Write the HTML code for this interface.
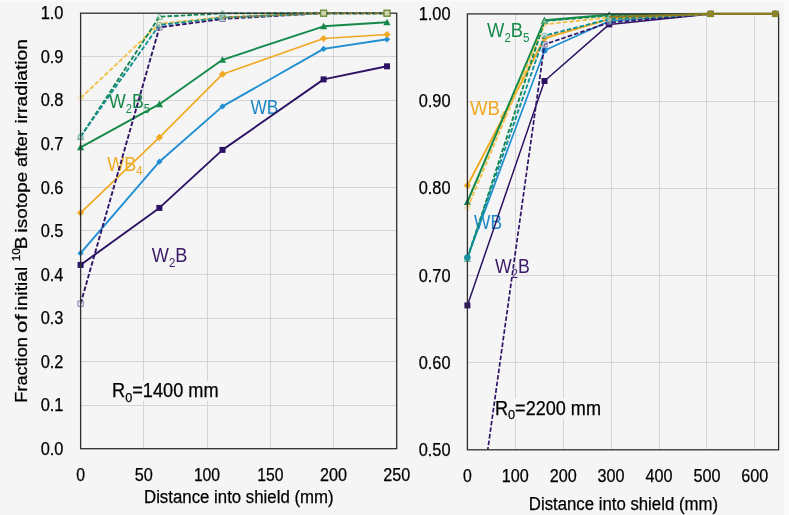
<!DOCTYPE html>
<html><head><meta charset="utf-8"><title>Fraction of initial 10B isotope after irradiation</title>
<style>html,body{margin:0;padding:0;background:#f5f5f5;}body{width:789px;height:515px;overflow:hidden}</style>
</head><body>
<svg width="789" height="515" viewBox="0 0 789 515" style="display:block">
<rect width="789" height="515" fill="#fbfbfb"/>
<rect x="0" y="1.5" width="784.5" height="514" fill="#f5f5f5"/>
<defs><clipPath id="cl"><rect x="76.6" y="8.2" width="324.1" height="440.5"/></clipPath><clipPath id="cr"><rect x="463.4" y="8.9" width="319.20000000000005" height="440.90000000000003"/></clipPath></defs>
<g stroke="#d5d5d9" stroke-width="1" fill="none">
<line x1="80.6" x2="396.7" y1="405.5" y2="405.5"/>
<line x1="80.6" x2="396.7" y1="361.5" y2="361.5"/>
<line x1="80.6" x2="396.7" y1="318.5" y2="318.5"/>
<line x1="80.6" x2="396.7" y1="274.5" y2="274.5"/>
<line x1="80.6" x2="396.7" y1="230.5" y2="230.5"/>
<line x1="80.6" x2="396.7" y1="187.5" y2="187.5"/>
<line x1="80.6" x2="396.7" y1="143.5" y2="143.5"/>
<line x1="80.6" x2="396.7" y1="100.5" y2="100.5"/>
<line x1="80.6" x2="396.7" y1="56.5" y2="56.5"/>
<line x1="143.5" x2="143.5" y1="13.2" y2="448.7"/>
<line x1="207.5" x2="207.5" y1="13.2" y2="448.7"/>
<line x1="270.5" x2="270.5" y1="13.2" y2="448.7"/>
<line x1="333.5" x2="333.5" y1="13.2" y2="448.7"/>
<line x1="467.4" x2="778.6" y1="362.5" y2="362.5"/>
<line x1="467.4" x2="778.6" y1="275.5" y2="275.5"/>
<line x1="467.4" x2="778.6" y1="188.5" y2="188.5"/>
<line x1="467.4" x2="778.6" y1="101.5" y2="101.5"/>
<line x1="515.5" x2="515.5" y1="13.9" y2="449.8"/>
<line x1="563.5" x2="563.5" y1="13.9" y2="449.8"/>
<line x1="611.5" x2="611.5" y1="13.9" y2="449.8"/>
<line x1="659.5" x2="659.5" y1="13.9" y2="449.8"/>
<line x1="706.5" x2="706.5" y1="13.9" y2="449.8"/>
<line x1="754.5" x2="754.5" y1="13.9" y2="449.8"/>
</g>
<g font-family="Liberation Sans, Arial, sans-serif" font-size="18.4" fill="#000" stroke="#000" stroke-width="0.25">
<text x="63.5" y="454.8" text-anchor="end" textLength="22.8" lengthAdjust="spacingAndGlyphs">0.0</text>
<text x="63.5" y="411.2" text-anchor="end" textLength="22.8" lengthAdjust="spacingAndGlyphs">0.1</text>
<text x="63.5" y="367.7" text-anchor="end" textLength="22.8" lengthAdjust="spacingAndGlyphs">0.2</text>
<text x="63.5" y="324.1" text-anchor="end" textLength="22.8" lengthAdjust="spacingAndGlyphs">0.3</text>
<text x="63.5" y="280.6" text-anchor="end" textLength="22.8" lengthAdjust="spacingAndGlyphs">0.4</text>
<text x="63.5" y="237.0" text-anchor="end" textLength="22.8" lengthAdjust="spacingAndGlyphs">0.5</text>
<text x="63.5" y="193.5" text-anchor="end" textLength="22.8" lengthAdjust="spacingAndGlyphs">0.6</text>
<text x="63.5" y="149.9" text-anchor="end" textLength="22.8" lengthAdjust="spacingAndGlyphs">0.7</text>
<text x="63.5" y="106.4" text-anchor="end" textLength="22.8" lengthAdjust="spacingAndGlyphs">0.8</text>
<text x="63.5" y="62.8" text-anchor="end" textLength="22.8" lengthAdjust="spacingAndGlyphs">0.9</text>
<text x="63.5" y="19.3" text-anchor="end" textLength="22.8" lengthAdjust="spacingAndGlyphs">1.0</text>
<text x="80.6" y="480.6" text-anchor="middle" textLength="8.8" lengthAdjust="spacingAndGlyphs">0</text>
<text x="143.8" y="480.6" text-anchor="middle" textLength="18.1" lengthAdjust="spacingAndGlyphs">50</text>
<text x="207.0" y="480.6" text-anchor="middle" textLength="26.2" lengthAdjust="spacingAndGlyphs">100</text>
<text x="270.3" y="480.6" text-anchor="middle" textLength="26.2" lengthAdjust="spacingAndGlyphs">150</text>
<text x="333.5" y="480.6" text-anchor="middle" textLength="27" lengthAdjust="spacingAndGlyphs">200</text>
<text x="396.7" y="480.6" text-anchor="middle" textLength="27" lengthAdjust="spacingAndGlyphs">250</text>
<text x="450.5" y="455.9" text-anchor="end" textLength="31.8" lengthAdjust="spacingAndGlyphs">0.50</text>
<text x="450.5" y="368.7" text-anchor="end" textLength="31.8" lengthAdjust="spacingAndGlyphs">0.60</text>
<text x="450.5" y="281.5" text-anchor="end" textLength="31.8" lengthAdjust="spacingAndGlyphs">0.70</text>
<text x="450.5" y="194.4" text-anchor="end" textLength="31.8" lengthAdjust="spacingAndGlyphs">0.80</text>
<text x="450.5" y="107.2" text-anchor="end" textLength="31.8" lengthAdjust="spacingAndGlyphs">0.90</text>
<text x="450.5" y="20.0" text-anchor="end" textLength="31.8" lengthAdjust="spacingAndGlyphs">1.00</text>
<text x="467.4" y="482.2" text-anchor="middle" textLength="8.8" lengthAdjust="spacingAndGlyphs">0</text>
<text x="515.3" y="482.2" text-anchor="middle" textLength="27" lengthAdjust="spacingAndGlyphs">100</text>
<text x="563.2" y="482.2" text-anchor="middle" textLength="27" lengthAdjust="spacingAndGlyphs">200</text>
<text x="611.1" y="482.2" text-anchor="middle" textLength="27" lengthAdjust="spacingAndGlyphs">300</text>
<text x="659.0" y="482.2" text-anchor="middle" textLength="27" lengthAdjust="spacingAndGlyphs">400</text>
<text x="706.9" y="482.2" text-anchor="middle" textLength="27" lengthAdjust="spacingAndGlyphs">500</text>
<text x="754.8" y="482.2" text-anchor="middle" textLength="27" lengthAdjust="spacingAndGlyphs">600</text>
<text x="144.0" y="503.3" font-size="18" textLength="189.6" lengthAdjust="spacingAndGlyphs">Distance into shield (mm)</text>
<text x="528.8" y="510.1" font-size="18" textLength="189.2" lengthAdjust="spacingAndGlyphs">Distance into shield (mm)</text>
<g transform="translate(26.5 0) rotate(-90)" font-size="17">
<text x="-402.70" y="0" textLength="65.50" lengthAdjust="spacingAndGlyphs">Fraction</text>
<text x="-332.90" y="0" textLength="18.50" lengthAdjust="spacingAndGlyphs">of</text>
<text x="-310.60" y="0" textLength="43.80" lengthAdjust="spacingAndGlyphs">initial</text>
<text x="-261.30" y="-6.3" font-size="11.5" textLength="13.20" lengthAdjust="spacingAndGlyphs">10</text>
<text x="-249.20" y="0" textLength="12.50" lengthAdjust="spacingAndGlyphs">B</text>
<text x="-232.40" y="0" textLength="60.60" lengthAdjust="spacingAndGlyphs">isotope</text>
<text x="-167.00" y="0" textLength="37.10" lengthAdjust="spacingAndGlyphs">after</text>
<text x="-123.60" y="0" textLength="84.60" lengthAdjust="spacingAndGlyphs">irradiation</text>
</g>
</g>
<text x="109" y="107.7" fill="#14894a" font-family="Liberation Sans, Arial, sans-serif" font-size="19.5" textLength="41" lengthAdjust="spacingAndGlyphs">W<tspan font-size="12.3" dy="4.8">2</tspan><tspan dy="-4.8">B</tspan><tspan font-size="12.3" dy="4.8">5</tspan></text>
<text x="107.3" y="170.6" fill="#f0a922" font-family="Liberation Sans, Arial, sans-serif" font-size="19.5" textLength="35.2" lengthAdjust="spacingAndGlyphs">WB<tspan font-size="12.3" dy="4.8">4</tspan></text>
<text x="250.4" y="113.6" fill="#1c86c4" font-family="Liberation Sans, Arial, sans-serif" font-size="19.5" textLength="28" lengthAdjust="spacingAndGlyphs">WB</text>
<text x="151.8" y="262.0" fill="#3a1a66" font-family="Liberation Sans, Arial, sans-serif" font-size="19.5" textLength="35.6" lengthAdjust="spacingAndGlyphs">W<tspan font-size="12.3" dy="4.8">2</tspan><tspan dy="-4.8">B</tspan></text>
<polyline points="80.6,264.9 159.4,207.9 222.5,149.9 323.6,79.4 387.0,66.3" fill="none" stroke="#2c1263" stroke-width="1.9" stroke-linejoin="round" clip-path="url(#cl)"/>
<rect x="77.6" y="261.9" width="6" height="6" fill="#2c1263"/>
<rect x="156.4" y="204.9" width="6" height="6" fill="#2c1263"/>
<rect x="219.5" y="146.9" width="6" height="6" fill="#2c1263"/>
<rect x="320.6" y="76.4" width="6" height="6" fill="#2c1263"/>
<rect x="384.0" y="63.3" width="6" height="6" fill="#2c1263"/>
<polyline points="80.6,253.2 159.4,161.7 222.5,106.4 323.6,48.9 387.0,39.3" fill="none" stroke="#1f8ed2" stroke-width="1.9" stroke-linejoin="round" clip-path="url(#cl)"/>
<path d="M80.6 250.1L83.7 253.2L80.6 256.3L77.5 253.2Z" fill="#1f8ed2"/>
<path d="M159.4 158.6L162.5 161.7L159.4 164.8L156.3 161.7Z" fill="#1f8ed2"/>
<path d="M222.5 103.3L225.6 106.4L222.5 109.5L219.4 106.4Z" fill="#1f8ed2"/>
<path d="M323.6 45.8L326.7 48.9L323.6 52.0L320.5 48.9Z" fill="#1f8ed2"/>
<path d="M387.0 36.2L390.1 39.3L387.0 42.4L383.9 39.3Z" fill="#1f8ed2"/>
<polyline points="80.6,212.8 159.4,137.3 222.5,74.2 323.6,38.5 387.0,34.5" fill="none" stroke="#f0a922" stroke-width="1.7" stroke-linejoin="round" clip-path="url(#cl)"/>
<path d="M80.6 209.2L84.2 212.8L80.6 216.4L77.0 212.8Z" fill="#f0a922"/>
<path d="M159.4 133.7L163.0 137.3L159.4 140.9L155.8 137.3Z" fill="#f0a922"/>
<path d="M222.5 70.6L226.1 74.2L222.5 77.8L218.9 74.2Z" fill="#f0a922"/>
<path d="M323.6 34.9L327.2 38.5L323.6 42.1L320.0 38.5Z" fill="#f0a922"/>
<path d="M387.0 30.9L390.6 34.5L387.0 38.1L383.4 34.5Z" fill="#f0a922"/>
<polyline points="80.6,147.3 159.4,104.2 222.5,59.8 323.6,26.3 387.0,22.3" fill="none" stroke="#14894a" stroke-width="1.9" stroke-linejoin="round" clip-path="url(#cl)"/>
<path d="M80.6 143.7L84.2 150.3L77.0 150.3Z" fill="#14894a"/>
<path d="M159.4 100.6L163.0 107.2L155.8 107.2Z" fill="#14894a"/>
<path d="M222.5 56.2L226.1 62.8L218.9 62.8Z" fill="#14894a"/>
<path d="M323.6 22.7L327.2 29.3L320.0 29.3Z" fill="#14894a"/>
<path d="M387.0 18.7L390.6 25.3L383.4 25.3Z" fill="#14894a"/>
<polyline points="80.6,303.7 159.4,27.4 222.5,18.9 323.6,13.2 387.0,13.2" fill="none" stroke="#2f1468" stroke-width="1.9" stroke-dasharray="4.6 2" clip-path="url(#cl)"/>
<rect x="78.0" y="301.1" width="5.2" height="5.2" fill="#f5f5f5" fill-opacity="0.35" stroke="#2f1468" stroke-opacity="0.6" stroke-width="0.9"/>
<rect x="156.8" y="24.8" width="5.2" height="5.2" fill="#f5f5f5" fill-opacity="0.35" stroke="#2f1468" stroke-opacity="0.6" stroke-width="0.9"/>
<rect x="219.9" y="16.3" width="5.2" height="5.2" fill="#f5f5f5" fill-opacity="0.35" stroke="#2f1468" stroke-opacity="0.6" stroke-width="0.9"/>
<rect x="321.0" y="10.6" width="5.2" height="5.2" fill="#f5f5f5" fill-opacity="0.35" stroke="#2f1468" stroke-opacity="0.6" stroke-width="0.9"/>
<rect x="384.4" y="10.6" width="5.2" height="5.2" fill="#f5f5f5" fill-opacity="0.35" stroke="#2f1468" stroke-opacity="0.6" stroke-width="0.9"/>
<polyline points="80.6,98.1 159.4,23.7 222.5,17.1 323.6,13.2 387.0,13.2" fill="none" stroke="#f3c148" stroke-width="1.9" stroke-dasharray="4.6 2" clip-path="url(#cl)"/>
<path d="M80.6 94.9L83.8 98.1L80.6 101.3L77.4 98.1Z" fill="#f5f5f5" fill-opacity="0.35" stroke="#f3c148" stroke-opacity="0.6" stroke-width="0.9"/>
<path d="M159.4 20.5L162.6 23.7L159.4 26.9L156.2 23.7Z" fill="#f5f5f5" fill-opacity="0.35" stroke="#f3c148" stroke-opacity="0.6" stroke-width="0.9"/>
<path d="M222.5 13.9L225.7 17.1L222.5 20.3L219.3 17.1Z" fill="#f5f5f5" fill-opacity="0.35" stroke="#f3c148" stroke-opacity="0.6" stroke-width="0.9"/>
<path d="M323.6 10.0L326.8 13.2L323.6 16.4L320.4 13.2Z" fill="#f5f5f5" fill-opacity="0.35" stroke="#f3c148" stroke-opacity="0.6" stroke-width="0.9"/>
<path d="M387.0 10.0L390.2 13.2L387.0 16.4L383.8 13.2Z" fill="#f5f5f5" fill-opacity="0.35" stroke="#f3c148" stroke-opacity="0.6" stroke-width="0.9"/>
<polyline points="80.6,136.9 159.4,16.7 222.5,13.4 323.6,13.2 387.0,13.2" fill="none" stroke="#148a52" stroke-width="1.9" stroke-dasharray="4.6 2" clip-path="url(#cl)"/>
<path d="M80.6 133.7L83.8 139.5L77.4 139.5Z" fill="#f5f5f5" fill-opacity="0.35" stroke="#148a52" stroke-opacity="0.6" stroke-width="0.9"/>
<path d="M159.4 13.5L162.6 19.3L156.2 19.3Z" fill="#f5f5f5" fill-opacity="0.35" stroke="#148a52" stroke-opacity="0.6" stroke-width="0.9"/>
<path d="M222.5 10.2L225.7 16.0L219.3 16.0Z" fill="#f5f5f5" fill-opacity="0.35" stroke="#148a52" stroke-opacity="0.6" stroke-width="0.9"/>
<path d="M323.6 10.0L326.8 15.8L320.4 15.8Z" fill="#f5f5f5" fill-opacity="0.35" stroke="#148a52" stroke-opacity="0.6" stroke-width="0.9"/>
<path d="M387.0 10.0L390.2 15.8L383.8 15.8Z" fill="#f5f5f5" fill-opacity="0.35" stroke="#148a52" stroke-opacity="0.6" stroke-width="0.9"/>
<polyline points="80.6,136.4 159.4,25.0 222.5,17.6 323.6,13.2 387.0,13.2" fill="none" stroke="#148f94" stroke-width="1.9" stroke-dasharray="4.6 2" clip-path="url(#cl)"/>
<circle cx="80.6" cy="136.4" r="2.6" fill="#f5f5f5" fill-opacity="0.35" stroke="#148f94" stroke-opacity="0.6" stroke-width="0.9"/>
<circle cx="159.4" cy="25.0" r="2.6" fill="#f5f5f5" fill-opacity="0.35" stroke="#148f94" stroke-opacity="0.6" stroke-width="0.9"/>
<circle cx="222.5" cy="17.6" r="2.6" fill="#f5f5f5" fill-opacity="0.35" stroke="#148f94" stroke-opacity="0.6" stroke-width="0.9"/>
<circle cx="323.6" cy="13.2" r="2.6" fill="#f5f5f5" fill-opacity="0.35" stroke="#148f94" stroke-opacity="0.6" stroke-width="0.9"/>
<circle cx="387.0" cy="13.2" r="2.6" fill="#f5f5f5" fill-opacity="0.35" stroke="#148f94" stroke-opacity="0.6" stroke-width="0.9"/>
<rect x="108" y="381" width="116" height="20" fill="#f5f5f5"/>
<text x="112.0" y="397.2" fill="#000" font-family="Liberation Sans, Arial, sans-serif" font-size="19.3" textLength="106.6" lengthAdjust="spacingAndGlyphs" stroke="#000" stroke-width="0.25">R<tspan font-size="13.5" dy="4.3">0</tspan><tspan dy="-4.3">=1400 mm</tspan></text>
<text x="487.1" y="36.8" fill="#14894a" font-family="Liberation Sans, Arial, sans-serif" font-size="19.5" textLength="42.4" lengthAdjust="spacingAndGlyphs">W<tspan font-size="12.3" dy="4.8">2</tspan><tspan dy="-4.8">B</tspan><tspan font-size="12.3" dy="4.8">5</tspan></text>
<text x="470.0" y="115.2" fill="#f0a922" font-family="Liberation Sans, Arial, sans-serif" font-size="19.5" textLength="36.5" lengthAdjust="spacingAndGlyphs">WB<tspan font-size="12.3" dy="4.8">4</tspan></text>
<text x="474" y="228.5" fill="#1c86c4" font-family="Liberation Sans, Arial, sans-serif" font-size="19.5" textLength="28" lengthAdjust="spacingAndGlyphs">WB</text>
<text x="495" y="273" fill="#3a1a66" font-family="Liberation Sans, Arial, sans-serif" font-size="19.5" textLength="34.8" lengthAdjust="spacingAndGlyphs">W<tspan font-size="12.3" dy="4.8">2</tspan><tspan dy="-4.8">B</tspan></text>
<polyline points="467.4,305.4 544.5,81.0 609.2,24.4 710.7,13.9 775.3,13.9" fill="none" stroke="#2c1263" stroke-width="1.5" stroke-linejoin="round" clip-path="url(#cr)"/>
<rect x="464.4" y="302.4" width="6" height="6" fill="#2c1263"/>
<rect x="541.5" y="78.0" width="6" height="6" fill="#2c1263"/>
<rect x="606.2" y="21.4" width="6" height="6" fill="#2c1263"/>
<rect x="707.7" y="10.9" width="6" height="6" fill="#2c1263"/>
<rect x="772.3" y="10.9" width="6" height="6" fill="#2c1263"/>
<polyline points="467.4,257.7 544.5,50.5 609.2,20.9 710.7,13.9 775.3,13.9" fill="none" stroke="#1f8ed2" stroke-width="1.7" stroke-linejoin="round" clip-path="url(#cr)"/>
<circle cx="467.4" cy="257.7" r="3" fill="#1f8ed2"/>
<circle cx="544.5" cy="50.5" r="3" fill="#1f8ed2"/>
<circle cx="609.2" cy="20.9" r="3" fill="#1f8ed2"/>
<circle cx="710.7" cy="13.9" r="3" fill="#1f8ed2"/>
<circle cx="775.3" cy="13.9" r="3" fill="#1f8ed2"/>
<polyline points="467.4,185.6 544.5,38.3 609.2,19.1 710.7,13.9 775.3,13.9" fill="none" stroke="#f0a922" stroke-width="2.0" stroke-linejoin="round" clip-path="url(#cr)"/>
<path d="M467.4 182.0L471.0 185.6L467.4 189.2L463.8 185.6Z" fill="#f0a922"/>
<path d="M544.5 34.7L548.1 38.3L544.5 41.9L540.9 38.3Z" fill="#f0a922"/>
<path d="M609.2 15.5L612.8 19.1L609.2 22.7L605.6 19.1Z" fill="#f0a922"/>
<path d="M710.7 10.3L714.3 13.9L710.7 17.5L707.1 13.9Z" fill="#f0a922"/>
<path d="M775.3 10.3L778.9 13.9L775.3 17.5L771.7 13.9Z" fill="#f0a922"/>
<polyline points="467.4,201.9 544.5,20.4 609.2,14.8 710.7,13.9 775.3,13.9" fill="none" stroke="#14894a" stroke-width="2.1" stroke-linejoin="round" clip-path="url(#cr)"/>
<path d="M467.4 198.3L471.0 204.9L463.8 204.9Z" fill="#14894a"/>
<path d="M544.5 16.8L548.1 23.4L540.9 23.4Z" fill="#14894a"/>
<path d="M609.2 11.2L612.8 17.8L605.6 17.8Z" fill="#14894a"/>
<path d="M710.7 10.3L714.3 16.9L707.1 16.9Z" fill="#14894a"/>
<path d="M775.3 10.3L778.9 16.9L771.7 16.9Z" fill="#14894a"/>
<polyline points="467.4,595.4 544.5,44.4 609.2,22.6 710.7,13.9 775.3,13.9" fill="none" stroke="#2f1468" stroke-width="1.7" stroke-dasharray="4.6 2" clip-path="url(#cr)"/>
<rect x="541.9" y="41.8" width="5.2" height="5.2" fill="#f5f5f5" fill-opacity="0.35" stroke="#2f1468" stroke-opacity="0.6" stroke-width="0.9"/>
<rect x="606.6" y="20.0" width="5.2" height="5.2" fill="#f5f5f5" fill-opacity="0.35" stroke="#2f1468" stroke-opacity="0.6" stroke-width="0.9"/>
<rect x="708.1" y="11.3" width="5.2" height="5.2" fill="#f5f5f5" fill-opacity="0.35" stroke="#2f1468" stroke-opacity="0.6" stroke-width="0.9"/>
<rect x="772.7" y="11.3" width="5.2" height="5.2" fill="#f5f5f5" fill-opacity="0.35" stroke="#2f1468" stroke-opacity="0.6" stroke-width="0.9"/>
<polyline points="467.4,208.3 544.5,24.4 609.2,17.4 710.7,13.9 775.3,13.9" fill="none" stroke="#f3c148" stroke-width="1.9" stroke-dasharray="4.6 2" clip-path="url(#cr)"/>
<path d="M467.4 205.1L470.6 208.3L467.4 211.5L464.2 208.3Z" fill="#f5f5f5" fill-opacity="0.35" stroke="#f3c148" stroke-opacity="0.6" stroke-width="0.9"/>
<path d="M544.5 21.2L547.7 24.4L544.5 27.6L541.3 24.4Z" fill="#f5f5f5" fill-opacity="0.35" stroke="#f3c148" stroke-opacity="0.6" stroke-width="0.9"/>
<path d="M609.2 14.2L612.4 17.4L609.2 20.6L606.0 17.4Z" fill="#f5f5f5" fill-opacity="0.35" stroke="#f3c148" stroke-opacity="0.6" stroke-width="0.9"/>
<path d="M710.7 10.7L713.9 13.9L710.7 17.1L707.5 13.9Z" fill="#f5f5f5" fill-opacity="0.35" stroke="#f3c148" stroke-opacity="0.6" stroke-width="0.9"/>
<path d="M775.3 10.7L778.5 13.9L775.3 17.1L772.1 13.9Z" fill="#f5f5f5" fill-opacity="0.35" stroke="#f3c148" stroke-opacity="0.6" stroke-width="0.9"/>
<polyline points="467.4,258.9 544.5,20.9 609.2,15.6 710.7,13.9 775.3,13.9" fill="none" stroke="#148a52" stroke-width="1.9" stroke-dasharray="4.6 2" clip-path="url(#cr)"/>
<path d="M467.4 255.7L470.6 261.5L464.2 261.5Z" fill="#f5f5f5" fill-opacity="0.35" stroke="#148a52" stroke-opacity="0.6" stroke-width="0.9"/>
<path d="M544.5 17.7L547.7 23.5L541.3 23.5Z" fill="#f5f5f5" fill-opacity="0.35" stroke="#148a52" stroke-opacity="0.6" stroke-width="0.9"/>
<path d="M609.2 12.4L612.4 18.2L606.0 18.2Z" fill="#f5f5f5" fill-opacity="0.35" stroke="#148a52" stroke-opacity="0.6" stroke-width="0.9"/>
<path d="M710.7 10.7L713.9 16.5L707.5 16.5Z" fill="#f5f5f5" fill-opacity="0.35" stroke="#148a52" stroke-opacity="0.6" stroke-width="0.9"/>
<path d="M775.3 10.7L778.5 16.5L772.1 16.5Z" fill="#f5f5f5" fill-opacity="0.35" stroke="#148a52" stroke-opacity="0.6" stroke-width="0.9"/>
<polyline points="467.4,257.1 544.5,35.7 609.2,19.1 710.7,13.9 775.3,13.9" fill="none" stroke="#148f94" stroke-width="1.9" stroke-dasharray="4.6 2" clip-path="url(#cr)"/>
<circle cx="467.4" cy="257.1" r="2.6" fill="#f5f5f5" fill-opacity="0.35" stroke="#148f94" stroke-opacity="0.6" stroke-width="0.9"/>
<circle cx="544.5" cy="35.7" r="2.6" fill="#f5f5f5" fill-opacity="0.35" stroke="#148f94" stroke-opacity="0.6" stroke-width="0.9"/>
<circle cx="609.2" cy="19.1" r="2.6" fill="#f5f5f5" fill-opacity="0.35" stroke="#148f94" stroke-opacity="0.6" stroke-width="0.9"/>
<circle cx="710.7" cy="13.9" r="2.6" fill="#f5f5f5" fill-opacity="0.35" stroke="#148f94" stroke-opacity="0.6" stroke-width="0.9"/>
<circle cx="775.3" cy="13.9" r="2.6" fill="#f5f5f5" fill-opacity="0.35" stroke="#148f94" stroke-opacity="0.6" stroke-width="0.9"/>
<rect x="80.6" y="13.2" width="316.1" height="435.5" fill="none" stroke="#2e2e2e" stroke-width="1.3"/>
<rect x="467.4" y="13.9" width="311.2" height="435.9" fill="none" stroke="#2e2e2e" stroke-width="1.3"/>
<circle cx="467.4" cy="257.7" r="3.1" fill="#15909a"/>
<polyline points="222.5,17.6 323.6,13.2 387.0,13.2" fill="none" stroke="#8d7d3a" stroke-width="1.8" stroke-dasharray="4.6 2" stroke-opacity="0.85"/>
<rect x="320.6" y="10.2" width="6" height="6" fill="#cfd3ae" stroke="#6e8a38" stroke-width="1.3"/>
<rect x="384.0" y="10.2" width="6" height="6" fill="#cfd3ae" stroke="#6e8a38" stroke-width="1.3"/>
<polyline points="609.2,17.0 710.7,13.9 775.3,13.9" fill="none" stroke="#8b7a22" stroke-width="2.1"/>
<rect x="707.5" y="10.7" width="6.4" height="6.4" fill="#8c8628"/>
<rect x="772.1" y="10.7" width="6.4" height="6.4" fill="#8c8628"/>
<rect x="497" y="398" width="106" height="21" fill="#f5f5f5"/>
<text x="495.0" y="414.8" fill="#000" font-family="Liberation Sans, Arial, sans-serif" font-size="19.3" textLength="106" lengthAdjust="spacingAndGlyphs" stroke="#000" stroke-width="0.25">R<tspan font-size="13.5" dy="4.3">0</tspan><tspan dy="-4.3">=2200 mm</tspan></text>
</svg>
</body></html>
